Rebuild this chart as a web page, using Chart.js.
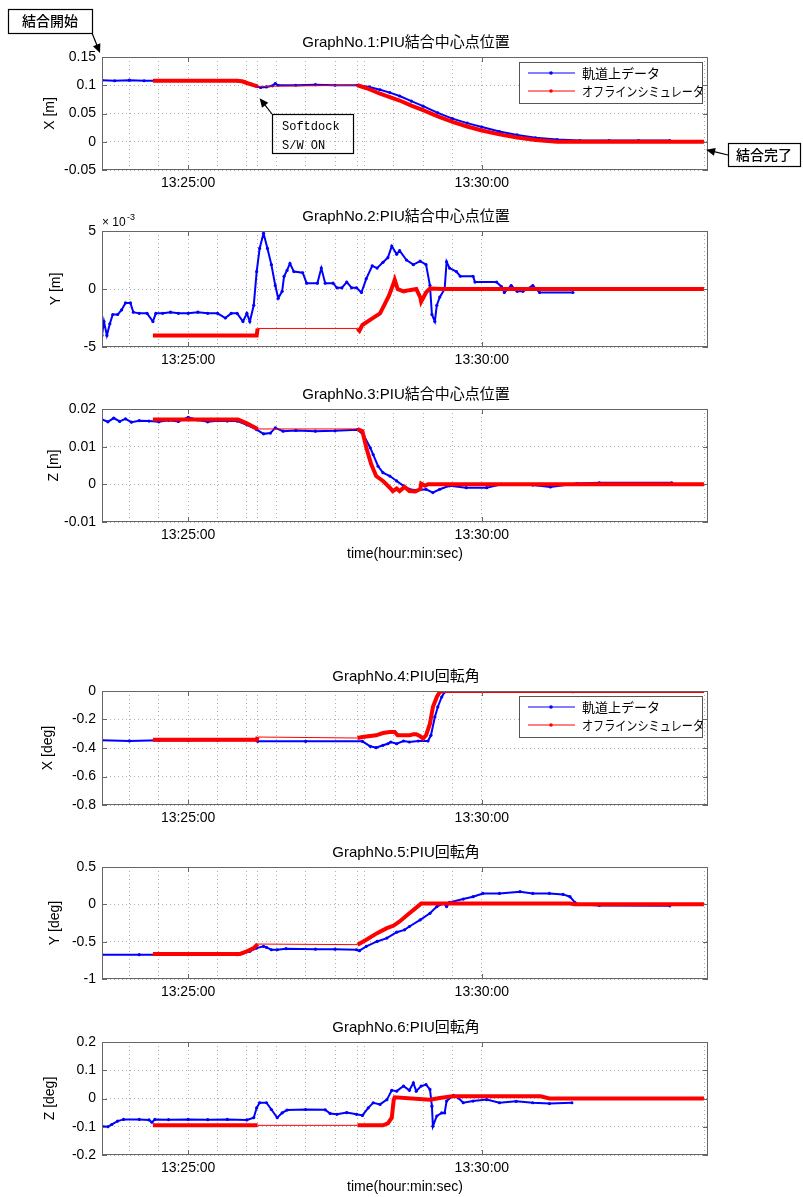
<!DOCTYPE html>
<html lang="ja">
<head>
<meta charset="UTF-8">
<title>PIU結合中心点位置 / PIU回転角</title>
<script src="https://cdn.jsdelivr.net/npm/chart.js"></script>
<style>
  body { margin: 0; background: #fff; }
  #wrap { position: relative; width: 803px; height: 1197px; background: #fff; }
  #wrap canvas { position: absolute; left: 0; }
</style>
</head>
<body>
<div id="wrap"></div>
<script>
// time axis: seconds from 13:25:00
const xMin = -88, xMax = 531;
const gridTimes = [-60, -30, 0, 30, 60, 71, 90, 120, 150, 173, 180, 210, 240, 270, 300, 527];
const labelTimes = [0, 300];
const tickLabels = ['13:25:00', '13:30:00'];
const simGap = [71, 173];   // simulator log gap (thin line)
const seriesNames = ['軌道上データ', 'オフラインシミュレータ'];

// GraphNo.1  X [m]
const g1Orbit = [[-88,0.109],[-75,0.108],[-60,0.109],[-45,0.108],[-30,0.108],[-10,0.108],[10,0.108],[30,0.108],[50,0.108],[58,0.106],[65,0.102],[70,0.098],[74,0.096],[80,0.097],[86,0.099],[89,0.103],[92,0.100],[110,0.100],[130,0.101],[150,0.100],[173,0.100],[185,0.097],[196,0.092],[206,0.087],[216,0.081],[228,0.072],[240,0.063],[255,0.051],[270,0.041],[285,0.033],[300,0.026],[318,0.018],[336,0.012],[355,0.007],[377,0.004],[400,0.002],[430,0.002],[460,0.002],[492,0.002]];
const g1Sim = [[-36,0.108],[0,0.108],[30,0.108],[50,0.108],[55,0.107],[60,0.104],[65,0.101],[71,0.098],[173,0.100],[185,0.093],[196,0.085],[206,0.079],[216,0.073],[228,0.064],[240,0.056],[255,0.045],[270,0.035],[285,0.027],[300,0.020],[318,0.013],[336,0.0074],[355,0.003],[377,0],[527,0]];

// GraphNo.2  Y [m] (x 10^-3)
const g2Orbit = [[-88,-4.0],[-86,-2.8],[-83,-4.0],[-80,-3.0],[-77,-2.2],[-72,-2.2],[-68,-1.8],[-64,-1.2],[-59,-1.2],[-56,-2.0],[-50,-2.1],[-42,-2.1],[-36,-2.8],[-33,-2.1],[-26,-2.1],[-18,-2.0],[-10,-2.1],[0,-2.1],[10,-2.0],[20,-2.1],[30,-2.1],[38,-2.5],[44,-2.1],[50,-2.1],[56,-2.8],[60,-2.1],[63,-2.8],[67,-1.4],[70,1.5],[73,3.5],[77,4.8],[81,3.5],[85,2.1],[89,0.3],[92,-0.8],[96,-0.2],[98,1.1],[101,1.6],[104,2.2],[108,1.5],[117,1.4],[121,0.5],[132,0.5],[136,1.8],[140,0.5],[148,0.5],[152,0.1],[157,0.1],[162,0.6],[167,0.1],[172,0.1],[177,-0.3],[182,0.9],[188,2.0],[193,1.8],[199,2.3],[204,2.7],[208,3.7],[213,3.0],[216,3.3],[223,2.5],[230,2.1],[237,2.4],[243,2.1],[247,0.3],[249,-2.2],[252,-2.8],[254,-1.4],[257,-0.7],[262,0.0],[264,2.35],[267,1.8],[274,1.5],[278,1.1],[291,1.1],[293,0.6],[315,0.6],[320,0.2],[323,-0.3],[330,0.3],[336,-0.2],[342,-0.2],[352,0.3],[359,-0.3],[393,-0.3]];
const g2Sim = [[-36,-4.0],[70,-4.0],[71,-3.4],[173,-3.4],[175,-3.6],[178,-3.1],[187,-2.6],[196,-2.1],[199,-1.6],[205,-0.6],[209,0.3],[211,0.8],[214,0.0],[220,-0.2],[226,-0.1],[233,0],[237,-0.7],[238,-1.1],[243,-0.3],[247,0.05],[260,0],[527,0]];

// GraphNo.3  Z [m]
const g3Orbit = [[-88,0.0172],[-82,0.0166],[-76,0.0176],[-70,0.0167],[-64,0.0174],[-58,0.0165],[-50,0.0169],[-40,0.0168],[-30,0.0166],[-20,0.0170],[-10,0.0167],[0,0.0178],[10,0.0171],[20,0.0166],[30,0.0169],[40,0.0168],[50,0.0168],[60,0.0158],[70,0.0145],[77,0.0134],[84,0.0136],[89,0.0150],[97,0.0141],[110,0.0143],[130,0.0141],[150,0.0142],[173,0.0145],[179,0.0132],[186,0.0097],[189,0.0079],[194,0.0048],[199,0.0031],[206,0.0022],[213,0.0009],[220,-0.0004],[226,-0.0013],[233,-0.0016],[243,-0.0013],[250,-0.0022],[257,-0.0013],[267,-0.0004],[284,-0.0009],[305,-0.0009],[320,0],[352,-0.0002],[370,-0.0007],[397,0.0002],[420,0.0004],[494,0.0004]];
const g3Sim = [[-36,0.0172],[51,0.0172],[60,0.0162],[71,0.0147],[173,0.0147],[178,0.0141],[182,0.0097],[187,0.0053],[192,0.0022],[199,0.0009],[206,-0.0009],[209,-0.0018],[213,-0.0011],[216,-0.0018],[221,-0.0007],[226,-0.0018],[232,-0.0019],[237,-0.0013],[238,0.0002],[242,-0.0004],[245,0],[527,0]];

// GraphNo.4  X [deg]
const g4Orbit = [[-88,-0.346],[-60,-0.350],[-30,-0.346],[0,-0.348],[30,-0.346],[70,-0.346],[71,-0.353],[120,-0.353],[178,-0.353],[186,-0.388],[192,-0.398],[199,-0.381],[204,-0.370],[207,-0.358],[213,-0.370],[220,-0.351],[226,-0.358],[235,-0.351],[245,-0.351],[248,-0.311],[252,-0.182],[255,-0.112],[259,-0.042],[262,-0.007],[300,-0.005],[393,-0.005]];
const g4Sim = [[-36,-0.342],[70,-0.342],[71,-0.323],[173,-0.330],[178,-0.323],[184,-0.318],[192,-0.311],[199,-0.295],[206,-0.288],[211,-0.288],[214,-0.311],[226,-0.311],[230,-0.304],[233,-0.304],[237,-0.318],[240,-0.334],[243,-0.311],[247,-0.229],[250,-0.112],[254,-0.042],[257,-0.007],[260,0],[527,0]];

// GraphNo.5  Y [deg]
const g5Orbit = [[-88,-0.674],[-50,-0.674],[0,-0.674],[50,-0.674],[56,-0.652],[63,-0.630],[70,-0.586],[77,-0.563],[80,-0.577],[85,-0.608],[91,-0.608],[100,-0.594],[130,-0.600],[150,-0.600],[172,-0.608],[175,-0.621],[182,-0.563],[193,-0.497],[203,-0.452],[213,-0.373],[221,-0.342],[226,-0.297],[237,-0.209],[247,-0.120],[254,-0.031],[261,0.013],[264,-0.030],[267,0.027],[281,0.071],[291,0.102],[301,0.146],[318,0.146],[339,0.169],[352,0.146],[369,0.146],[383,0.133],[390,0.102],[395,0.027],[398,0],[420,-0.015],[492,-0.020]];
const g5Sim = [[-36,-0.665],[53,-0.665],[60,-0.630],[67,-0.586],[71,-0.532],[173,-0.540],[182,-0.475],[193,-0.386],[203,-0.319],[210,-0.284],[216,-0.230],[226,-0.120],[238,0.010],[390,0.010],[395,0],[527,0]];

// GraphNo.6  Z [deg]
const g6Orbit = [[-88,-0.098],[-82,-0.100],[-78,-0.092],[-72,-0.080],[-66,-0.074],[-50,-0.074],[-40,-0.076],[-37,-0.084],[-34,-0.074],[-20,-0.075],[0,-0.074],[20,-0.075],[40,-0.074],[60,-0.076],[67,-0.068],[70,-0.033],[73,-0.015],[80,-0.015],[85,-0.039],[91,-0.068],[96,-0.051],[101,-0.041],[120,-0.039],[140,-0.040],[145,-0.053],[152,-0.056],[162,-0.050],[172,-0.056],[178,-0.060],[184,-0.033],[189,-0.015],[196,-0.021],[203,-0.004],[208,0.029],[213,0.026],[220,0.044],[226,0.029],[230,0.055],[233,0.026],[238,0.044],[243,0.049],[247,0.032],[249,-0.027],[250,-0.098],[254,-0.062],[259,-0.051],[262,-0.051],[264,-0.009],[271,0.011],[276,0.002],[281,-0.015],[291,-0.009],[305,-0.004],[318,-0.015],[335,-0.010],[352,-0.015],[369,-0.018],[392,-0.015]];
const g6Sim = [[-36,-0.095],[71,-0.095],[173,-0.095],[199,-0.095],[204,-0.088],[208,-0.068],[210,-0.004],[211,0.004],[247,-0.004],[257,0.002],[270,0.008],[360,0.008],[369,0],[527,0]];

const FONT = "'Liberation Sans', 'Noto Sans CJK JP', sans-serif";
const JP = "'Noto Sans CJK JP', sans-serif";
Chart.defaults.color = '#000';
Chart.defaults.font.family = FONT;

function arrow(ctx, x0, y0, x1, y1) {
  const a = Math.atan2(y1 - y0, x1 - x0), L = 9, W = 4;
  ctx.beginPath(); ctx.moveTo(x0, y0); ctx.lineTo(x1 - L * Math.cos(a) * 0.8, y1 - L * Math.sin(a) * 0.8); ctx.stroke();
  ctx.beginPath();
  ctx.moveTo(x1, y1);
  ctx.lineTo(x1 - L * Math.cos(a) + W * Math.sin(a), y1 - L * Math.sin(a) - W * Math.cos(a));
  ctx.lineTo(x1 - L * Math.cos(a) - W * Math.sin(a), y1 - L * Math.sin(a) + W * Math.cos(a));
  ctx.closePath(); ctx.fill();
}

// frame, major ticks and the graph title centred over the plot
const framePlugin = {
  id: 'frame',
  afterDraw(chart) {
    const {ctx, chartArea: a, scales: {x, y}} = chart;
    ctx.save();
    ctx.strokeStyle = '#666'; ctx.lineWidth = 1;
    ctx.strokeRect(Math.round(a.left) + 0.5, Math.round(a.top) + 0.5, Math.round(a.right - a.left) - 1, Math.round(a.bottom - a.top) - 1);
    ctx.beginPath();
    labelTimes.forEach(t => {
      const px = Math.round(x.getPixelForValue(t)) + 0.5;
      ctx.moveTo(px, a.bottom); ctx.lineTo(px, a.bottom - 5);
      ctx.moveTo(px, a.top); ctx.lineTo(px, a.top + 5);
    });
    y.ticks.forEach(tk => {
      const py = Math.round(y.getPixelForValue(tk.value)) + 0.5;
      ctx.moveTo(a.left, py); ctx.lineTo(a.left + 5, py);
      ctx.moveTo(a.right, py); ctx.lineTo(a.right - 5, py);
    });
    ctx.stroke();
    ctx.fillStyle = '#000'; ctx.textAlign = 'center'; ctx.textBaseline = 'middle';
    ctx.font = '15px ' + FONT;
    ctx.fillText(chart.options.plugins.graphTitle.text, (a.left + a.right) / 2 + 1, a.top - 14);
    ctx.restore();
  }
};

const legendPlugin = {
  id: 'boxLegend',
  afterDraw(chart) {
    const {ctx, chartArea: a} = chart;
    const bx = Math.round(a.right) - 189, by = Math.round(a.top) + 5, bw = 183, bh = 41;
    ctx.save();
    ctx.fillStyle = '#fff'; ctx.fillRect(bx, by, bw, bh);
    ctx.strokeStyle = '#555'; ctx.lineWidth = 1; ctx.strokeRect(bx + 0.5, by + 0.5, bw, bh);
    const colors = ['#0000ff', '#ff0000'];
    seriesNames.forEach((name, i) => {
      const ly = by + 11 + i * 18;
      ctx.strokeStyle = colors[i]; ctx.fillStyle = colors[i];
      ctx.beginPath(); ctx.moveTo(bx + 9, ly); ctx.lineTo(bx + 56, ly); ctx.stroke();
      ctx.beginPath(); ctx.arc(bx + 32, ly, 1.8, 0, Math.PI * 2); ctx.fill();
      ctx.fillStyle = '#000'; ctx.font = '13px ' + JP; ctx.textBaseline = 'middle';
      ctx.fillText(name, bx + 63, ly, i ? 122 : 90);
    });
    ctx.restore();
  }
};

const notesPlugin = {
  id: 'notes',
  afterDraw(chart) {
    const {ctx, chartArea: a, scales: {x, y}} = chart;
    ctx.save();
    ctx.strokeStyle = '#000'; ctx.fillStyle = '#000'; ctx.lineWidth = 1.2;
    ctx.textBaseline = 'middle'; ctx.textAlign = 'center';
    // 結合開始
    let bx = Math.round(a.left) - 94, by = Math.round(a.top) - 48;
    ctx.strokeRect(bx + 0.5, by + 0.5, 84, 24);
    ctx.font = '500 14px ' + JP; ctx.fillText('結合開始', bx + 42, by + 12);
    arrow(ctx, bx + 84, by + 24, a.left - 2, a.top - 4);
    // Softdock S/W ON
    const sx = x.getPixelForValue(73), sy = y.getPixelForValue(0.1) + 13;
    bx = Math.round(sx) + 12; by = Math.round(sy) + 16;
    ctx.strokeRect(bx + 0.5, by + 0.5, 81, 39);
    ctx.textAlign = 'left'; ctx.textBaseline = 'alphabetic';
    ctx.font = "12px 'Liberation Mono', monospace";
    ctx.fillText('Softdock', bx + 10, by + 16);
    ctx.fillText('S/W ON', bx + 10, by + 35);
    arrow(ctx, bx, by, sx, sy);
    // 結合完了
    const ex = x.getPixelForValue(527) + 2, ey = y.getPixelForValue(0) + 8;
    bx = Math.round(ex) + 22; by = Math.round(ey) - 7;
    ctx.strokeRect(bx + 0.5, by + 0.5, 72, 23);
    ctx.textAlign = 'center'; ctx.textBaseline = 'middle';
    ctx.font = '500 14px ' + JP; ctx.fillText('結合完了', bx + 36, by + 12);
    arrow(ctx, bx, by + 12, ex, ey);
    ctx.restore();
  }
};

const expPlugin = {
  id: 'exp',
  afterDraw(chart) {
    const {ctx, chartArea: a} = chart;
    ctx.save();
    ctx.fillStyle = '#000'; ctx.textBaseline = 'alphabetic';
    ctx.font = '12px ' + FONT; ctx.fillText('× 10', a.left, a.top - 5);
    ctx.font = '9px ' + FONT; ctx.fillText('-3', a.left + 25, a.top - 11);
    ctx.restore();
  }
};

const panels = [
  {title: 'GraphNo.1:PIU結合中心点位置', yTitle: 'X [m]', min: -0.05, max: 0.15, step: 0.05, top: 57, bottom: 170, extraTop: 29, yTitleX: 50, orbit: g1Orbit, sim: g1Sim, plugins: [legendPlugin, notesPlugin]},
  {title: 'GraphNo.2:PIU結合中心点位置', yTitle: 'Y [m]', min: -5, max: 5, step: 5, top: 231, bottom: 347, yTitleX: 56, orbit: g2Orbit, sim: g2Sim, plugins: [expPlugin]},
  {title: 'GraphNo.3:PIU結合中心点位置', yTitle: 'Z [m]', min: -0.01, max: 0.02, step: 0.01, top: 409, bottom: 522, yTitleX: 54, orbit: g3Orbit, sim: g3Sim, xTitle: true, plugins: []},
  {title: 'GraphNo.4:PIU回転角', yTitle: 'X [deg]', min: -0.8, max: 0, step: 0.2, top: 691, bottom: 805, yTitleX: 48, orbit: g4Orbit, sim: g4Sim, plugins: [legendPlugin]},
  {title: 'GraphNo.5:PIU回転角', yTitle: 'Y [deg]', min: -1, max: 0.5, step: 0.5, top: 867, bottom: 979, yTitleX: 55, orbit: g5Orbit, sim: g5Sim, plugins: []},
  {title: 'GraphNo.6:PIU回転角', yTitle: 'Z [deg]', min: -0.2, max: 0.2, step: 0.1, top: 1042, bottom: 1155, yTitleX: 50, orbit: g6Orbit, sim: g6Sim, xTitle: true, plugins: []}
];

const wrap = document.getElementById('wrap');
const toXY = pts => pts.map(([x, y]) => ({x, y}));

panels.forEach(p => {
  const extraTop = p.extraTop || 0;
  const xAxisH = p.xTitle ? 42 : 30;
  const h = extraTop + 28 + (p.bottom - p.top) + xAxisH;
  const cv = document.createElement('canvas');
  cv.width = 803; cv.height = h;
  cv.style.top = (p.top - 28 - extraTop) + 'px';
  wrap.appendChild(cv);

  new Chart(cv.getContext('2d'), {
    type: 'line',
    data: {
      datasets: [
        {
          label: seriesNames[1],
          data: toXY(p.sim),
          borderColor: '#ff0000',
          borderWidth: 4,
          pointRadius: 0,
          order: 0,
          segment: {
            borderWidth: c => (c.p0.parsed.x >= simGap[0] && c.p1.parsed.x <= simGap[1]) ? 1 : 4
          }
        },
        {
          label: seriesNames[0],
          data: toXY(p.orbit),
          borderColor: '#0000ff',
          borderWidth: 2,
          pointRadius: 1.6,
          pointBorderWidth: 0,
          pointBackgroundColor: '#0000ff',
          order: 1
        }
      ]
    },
    options: {
      responsive: false,
      animation: false,
      devicePixelRatio: 1,
      layout: {padding: {top: extraTop + 28, right: 95, left: 0, bottom: 0}},
      plugins: {
        legend: {display: false},
        tooltip: {enabled: false},
        title: {display: false},
        graphTitle: {text: p.title}
      },
      scales: {
        x: {
          type: 'linear', min: xMin, max: xMax,
          afterBuildTicks: s => { s.ticks = gridTimes.map(v => ({value: v})); },
          afterFit: s => { s.height = xAxisH; },
          ticks: {
            autoSkip: false, maxRotation: 0, padding: 5,
            font: {size: 14},
            callback: v => { const i = labelTimes.indexOf(v); return i >= 0 ? tickLabels[i] : ''; }
          },
          grid: {color: '#b0b0b0', lineWidth: 1, drawTicks: false},
          border: {display: false, dash: [1, 3]},
          title: {display: !!p.xTitle, text: 'time(hour:min:sec)', font: {size: 14}, padding: {top: 0, bottom: 1.6}}
        },
        y: {
          min: p.min, max: p.max,
          afterFit: s => { s.width = 102; },
          ticks: {stepSize: p.step, padding: 6, font: {size: 14}, callback: v => String(+v.toFixed(3))},
          grid: {color: '#b0b0b0', lineWidth: 1, drawTicks: false},
          border: {display: false, dash: [1, 3]},
          title: {display: true, text: p.yTitle, font: {size: 14}, padding: {top: p.yTitleX - 8.4, bottom: 0}}
        }
      }
    },
    plugins: [framePlugin].concat(p.plugins)
  });
});
</script>
</body>
</html>
